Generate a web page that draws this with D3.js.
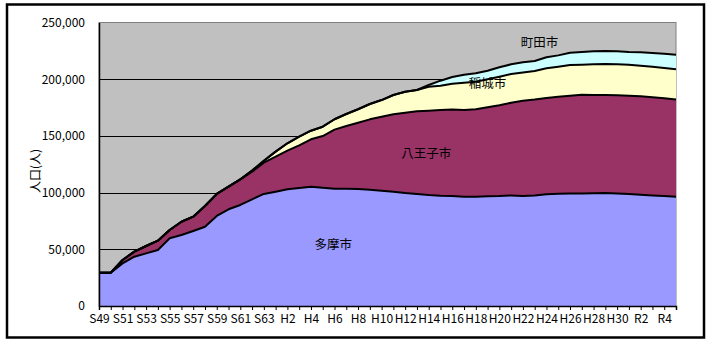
<!DOCTYPE html>
<html><head><meta charset="utf-8">
<script src="https://cdn.jsdelivr.net/npm/d3@7"></script>
<style>html,body{margin:0;padding:0;background:#fff;}svg{display:block;}</style>
</head><body>
<svg id="c" width="712" height="346"></svg>
<script>
const categories = [
 "S49","S50","S51","S52","S53","S54","S55","S56","S57","S58","S59","S60","S61","S62","S63",
 "H1","H2","H3","H4","H5","H6","H7","H8","H9","H10","H11","H12","H13","H14","H15",
 "H16","H17","H18","H19","H20","H21","H22","H23","H24","H25","H26","H27","H28","H29","H30",
 "R1","R2","R3","R4","R5"];
const seriesNames = ["多摩市","八王子市","稲城市","町田市"];
const seriesColors = ["#9999FF","#993366","#FFFFCC","#CCFFFF"];
const tama = [29400,29400,37600,43500,46400,49400,59700,62600,66100,69900,79400,85300,89100,94100,98800,100800,102900,104000,105200,104300,103400,103500,103200,102600,101700,100800,99600,98800,97900,97300,97000,96400,96400,96700,96900,97500,97000,97500,98600,99000,99200,99300,99500,99700,99200,98700,98000,97500,97000,96300];
const hachioji = [0,0,3000,4400,6500,8200,7300,11700,12700,18300,19400,19900,22600,24300,27600,30900,34100,37700,41800,45600,52100,55200,58400,62000,65200,68200,70900,72900,74300,75500,76200,76400,77100,78500,80100,81800,84000,84500,84800,85600,86200,87000,86500,86300,86600,86800,86900,86500,86100,85900];
const inagi = [0,0,0,0,0,0,0,0,0,0,0,0,0,1000,1700,4400,6500,7600,7600,8200,9200,10600,11900,13500,14700,17100,18500,18800,21100,21500,22700,24100,24300,24700,25200,25300,25000,25200,26200,26400,27200,26500,27100,27400,27300,27300,27000,27000,26800,26500];
const machida = [0,0,0,0,0,0,0,0,0,0,0,0,0,0,0,0,0,0,0,0,0,0,0,0,0,0,0,0,1600,4400,6100,7100,7400,7600,8300,8500,8900,8800,9700,10000,10800,11200,11500,11500,11500,11200,11800,12100,12600,12900];
const yTicks = [0,50000,100000,150000,200000,250000];
const yTitle = "人口(人)";
// label anchors: [text, category index (fractional), value]
const seriesLabels = [["多摩市",19.9,53000],["八王子市",27.8,133500],["稲城市",33,195500],["町田市",37.4,231000]];

const table = categories.map((c,i)=>({cat:c,"多摩市":tama[i],"八王子市":hachioji[i],"稲城市":inagi[i],"町田市":machida[i]}));
const stacked = d3.stack().keys(seriesNames)(table);

const svg = d3.select("#c");
const L=99, R=676, T=22.5, B=306;
const x = d3.scalePoint().domain(categories).range([L,R]);
const xi = d3.scaleLinear().domain([0,categories.length-1]).range([L,R]);
const y = d3.scaleLinear().domain([0,250000]).range([B,T]);
const font = "'MS PGothic','Noto Sans CJK JP','Noto Sans',sans-serif";

// outer frame
svg.append("rect").attr("x",7).attr("y",4.5).attr("width",697).attr("height",333)
  .attr("fill","#fff").attr("stroke","#000").attr("stroke-width",2.5);

// plot background
svg.append("rect").attr("x",L).attr("y",T).attr("width",R-L).attr("height",B-T)
  .attr("fill","#C0C0C0").attr("stroke","#808080").attr("stroke-width",1);

// gridlines
svg.append("g").selectAll("line").data(yTicks.filter(v=>v>0 && v<250000)).join("line")
  .attr("x1",L).attr("x2",R).attr("y1",d=>Math.round(y(d))+0.5).attr("y2",d=>Math.round(y(d))+0.5)
  .attr("stroke","#000").attr("stroke-width",1);

// areas
const area = d3.area().x(d=>x(d.data.cat)).y0(d=>y(d[0])).y1(d=>y(d[1]));
svg.append("g").selectAll("path").data(stacked).join("path")
  .attr("d",area).attr("fill",(d,i)=>seriesColors[i]);
// top lines
const line = d3.line().x(d=>x(d.data.cat)).y(d=>y(d[1]));
svg.append("g").selectAll("path").data(stacked).join("path")
  .attr("d",line).attr("fill","none").attr("stroke","#000").attr("stroke-width",2).attr("stroke-linejoin","round");

// axes
const xAxis = d3.axisBottom(x).tickSize(4).tickFormat((d,i)=> i%2===0 ? d : "");
const gx = svg.append("g").attr("transform",`translate(0,${B})`).call(xAxis);
gx.select(".domain").attr("stroke","#000").attr("stroke-width",1.5);
gx.selectAll(".tick line").attr("stroke","#000");
gx.selectAll("text").attr("font-family",font).attr("font-size",12).attr("fill","#000").attr("dy","0.85em");

const yAxis = d3.axisLeft(y).tickValues(yTicks).tickSize(0).tickPadding(14).tickFormat(d3.format(","));
const gy = svg.append("g").attr("transform",`translate(${L},0)`).call(yAxis);
gy.select(".domain").attr("stroke","#000").attr("stroke-width",1.5);
gy.selectAll("text").attr("font-family",font).attr("font-size",12).attr("fill","#000");

// y title
svg.append("text").attr("transform","translate(40,171) rotate(-90)").attr("text-anchor","middle")
  .attr("font-family",font).attr("font-size",12).text(yTitle);

// series labels
svg.append("g").selectAll("text").data(seriesLabels).join("text")
  .attr("x",d=>xi(d[1])).attr("y",d=>y(d[2]))
  .attr("text-anchor","middle").attr("dominant-baseline","middle")
  .attr("font-family",font).attr("font-size",12.5).attr("fill","#000").text(d=>d[0]);
</script>
</body></html>
